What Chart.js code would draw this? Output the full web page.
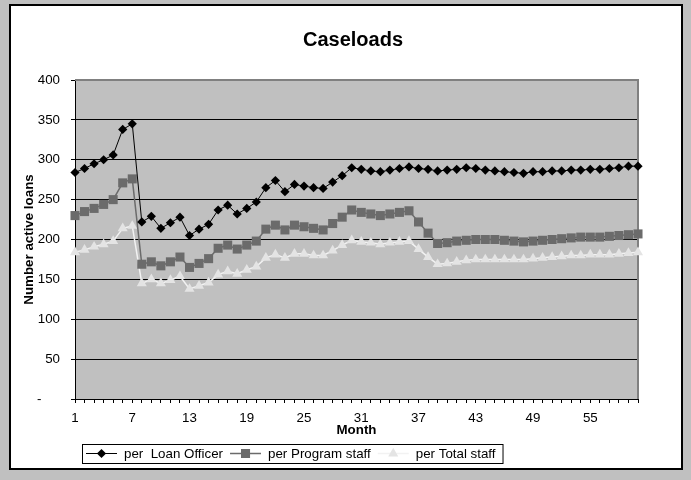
<!DOCTYPE html>
<html><head><meta charset="utf-8">
<script src="https://cdn.jsdelivr.net/npm/chart.js@4/dist/chart.umd.min.js"></script>
<style>html,body{margin:0;padding:0;background:#c0c0c0;}canvas{display:block;}</style>
</head><body>
<canvas id="c" width="691" height="480"></canvas>
<script>
const FONT = "'Liberation Sans', Arial, Helvetica, sans-serif";
const FS = 13.33;

const months = ['1','2','3','4','5','6','7','8','9','10','11','12','13','14','15','16','17','18','19','20',
  '21','22','23','24','25','26','27','28','29','30','31','32','33','34','35','36','37','38','39','40',
  '41','42','43','44','45','46','47','48','49','50','51','52','53','54','55','56','57','58','59','60'];
const xTickLabels = ['1','7','13','19','25','31','37','43','49','55'];
const yZeroLabel = '-     ';
const seriesNames = ['per  Loan Officer', 'per Program staff', 'per Total staff'];

const loanOfficer = [284,289,295,300,306,338,345,222,229,214,221,228,205,213,219,237,243,232,239,247,
  265,274,260,269,267,265,264,272,280,290,288,286,285,287,289,291,289,288,286,287,
  288,290,289,287,286,285,284,283,285,285,286,286,287,287,288,288,289,290,292,292];
const programStaff = [230,235,239,244,250,271,276,169,172,167,172,178,165,170,176,189,193,188,193,198,
  213,218,212,218,216,214,212,220,228,237,234,232,230,232,234,236,222,208,195,196,
  198,199,200,200,200,199,198,197,198,199,200,201,202,203,203,203,204,205,206,207];
const totalStaff = [184,187,191,194,198,214,217,145,150,145,149,154,138,142,146,156,160,157,162,166,
  177,181,177,182,182,180,180,186,193,199,197,196,194,196,197,198,188,178,169,170,
  172,174,175,175,175,175,175,175,176,177,178,179,180,180,181,181,181,182,183,184];

const framePlugin = {
  id: 'frame',
  beforeDraw(chart) {
    const ctx = chart.ctx, a = chart.chartArea;
    ctx.save();
    ctx.fillStyle = '#c0c0c0';
    ctx.fillRect(0, 0, chart.width, chart.height);
    ctx.fillStyle = '#ffffff';
    ctx.fillRect(9, 4, 674, 466);
    ctx.strokeStyle = '#000';
    ctx.lineWidth = 2;
    ctx.strokeRect(10, 5, 672, 464);
    ctx.fillStyle = '#c0c0c0';
    ctx.fillRect(a.left, a.top, a.right - a.left, a.bottom - a.top);
    ctx.restore();
  },
  beforeDatasetsDraw(chart) {
    const ctx = chart.ctx, a = chart.chartArea;
    ctx.save();
    ctx.strokeStyle = '#808080';
    ctx.lineWidth = 2;
    ctx.beginPath();
    ctx.moveTo(a.left, a.top);
    ctx.lineTo(a.right, a.top);
    ctx.lineTo(a.right, a.bottom);
    ctx.stroke();
    ctx.restore();
  }
};

function drawMarker(ctx, style, r, x, y, color) {
  ctx.fillStyle = color;
  ctx.beginPath();
  if (style === 'rectRot') {
    ctx.moveTo(x, y - r); ctx.lineTo(x + r, y); ctx.lineTo(x, y + r); ctx.lineTo(x - r, y);
  } else if (style === 'rect') {
    const s = r * Math.SQRT1_2;
    ctx.rect(x - s, y - s, 2 * s, 2 * s);
  } else {
    ctx.moveTo(x, y - r);
    ctx.lineTo(x + r * Math.sin(Math.PI / 3), y + r / 2);
    ctx.lineTo(x - r * Math.sin(Math.PI / 3), y + r / 2);
  }
  ctx.closePath();
  ctx.fill();
}

const legendPlugin = {
  id: 'boxLegend',
  afterDraw(chart) {
    const ctx = chart.ctx;
    const box = {left: 82, top: 444, bottom: 463};
    const cy = (box.top + box.bottom) / 2;
    ctx.save();
    ctx.font = FS + 'px ' + FONT;
    ctx.textBaseline = 'middle';
    ctx.textAlign = 'left';
    let x = box.left + 4;
    chart.data.datasets.forEach((ds) => {
      ctx.strokeStyle = ds.borderColor;
      ctx.lineWidth = ds.borderWidth;
      ctx.beginPath();
      ctx.moveTo(x, cy); ctx.lineTo(x + 31, cy);
      ctx.stroke();
      drawMarker(ctx, ds.pointStyle, ds.pointRadius, x + 15.5, cy, ds.pointBackgroundColor);
      x += 38;
      ctx.fillStyle = '#000';
      ctx.fillText(ds.label, x, cy + 0.5);
      x += ctx.measureText(ds.label).width + 7;
    });
    ctx.strokeStyle = '#000';
    ctx.lineWidth = 1;
    ctx.strokeRect(box.left + 0.5, box.top + 0.5, x - box.left, box.bottom - box.top);
    ctx.restore();
  }
};

new Chart(document.getElementById('c'), {
  type: 'line',
  data: {
    labels: months,
    datasets: [
      {label: seriesNames[0], data: loanOfficer, borderColor: '#000000', borderWidth: 1,
       pointStyle: 'rectRot', pointRadius: 4.6, pointHoverRadius: 4.6, pointBackgroundColor: '#000000',
       pointBorderColor: '#000000', pointBorderWidth: 0, tension: 0, clip: false},
      {label: seriesNames[1], data: programStaff, borderColor: '#6b6b6b', borderWidth: 1.5,
       pointStyle: 'rect', pointRadius: 6.4, pointHoverRadius: 6.4, pointBackgroundColor: '#6b6b6b',
       pointBorderColor: '#6b6b6b', pointBorderWidth: 0, tension: 0, clip: false},
      {label: seriesNames[2], data: totalStaff, borderColor: '#f2f2f2', borderWidth: 1.5,
       pointStyle: 'triangle', pointRadius: 5.8, pointHoverRadius: 5.8, pointBackgroundColor: '#e4e4e4',
       pointBorderColor: '#e4e4e4', pointBorderWidth: 0, tension: 0, clip: false}
    ]
  },
  options: {
    responsive: false, animation: false, devicePixelRatio: 1,
    layout: {padding: {left: 15, right: 0, top: 0, bottom: 0}},
    plugins: {
      legend: {display: false},
      tooltip: {enabled: false},
      title: {display: true, text: 'Caseloads', color: '#000',
        font: {family: FONT, size: 20, weight: 'bold'}, padding: {top: 28, bottom: 28}}
    },
    scales: {
      x: {
        type: 'category', offset: false,
        grid: {display: true, drawOnChartArea: false, drawTicks: true, tickLength: 4, color: '#000', lineWidth: 1},
        border: {display: true, color: '#000', width: 1},
        ticks: {autoSkip: false, maxRotation: 0, minRotation: 0, padding: 7, color: '#000',
          font: {family: FONT, size: FS},
          callback: function (v) { const l = this.getLabelForValue(v); return xTickLabels.includes(l) ? l : ''; }},
        title: {display: true, text: 'Month', color: '#000', font: {family: FONT, size: FS, weight: 'bold'},
          padding: {top: 0, bottom: 42}},
        afterFit(s) { s.height = 81; }
      },
      y: {
        min: 0, max: 400,
        ticks: {stepSize: 50, padding: 11, color: '#000', font: {family: FONT, size: FS},
          callback: (v) => v === 0 ? yZeroLabel : String(v)},
        grid: {color: '#000', lineWidth: 1, tickLength: 4, drawTicks: true},
        border: {display: true, color: '#000', width: 1},
        title: {display: true, text: 'Number active loans', color: '#000',
          font: {family: FONT, size: FS, weight: 'bold'}, padding: {top: 6, bottom: 0}},
        afterFit(s) { s.width = 60; }
      },
      yR: {
        position: 'right', display: true, min: 0, max: 1,
        grid: {display: false}, border: {display: false}, ticks: {display: false},
        afterFit(s) { s.width = 53; }
      }
    }
  },
  plugins: [framePlugin, legendPlugin]
});
</script>
</body></html>
